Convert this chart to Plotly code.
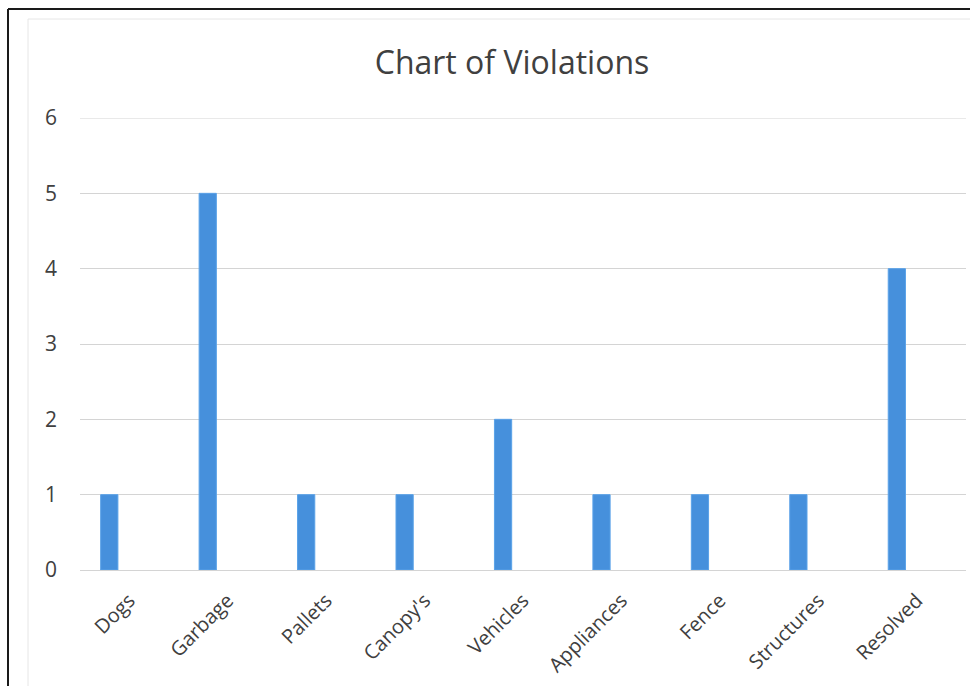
import plotly.graph_objects as go

categories = ["Dogs", "Garbage", "Pallets", "Canopy's", "Vehicles",
              "Appliances", "Fence", "Structures", "Resolved"]
counts = [1, 5, 1, 1, 2, 1, 1, 1, 4]
y_ticks = [0, 1, 2, 3, 4, 5, 6]

W, H = 970, 686
L, R, T, B = 80, 4, 118, 116
pw, ph = W - L - R, H - T - B
GRID = "#D4D4D4"


def px_x(p):
    return (p - L) / pw


def px_y(p):
    return 1 - (p - T) / ph


fig = go.Figure(go.Bar(
    x=categories, y=counts,
    width=0.175, offset=-0.29,
    marker=dict(color="#4690DC", line=dict(color="#5AA2E8", width=1)),
))

fig.update_layout(
    width=W, height=H,
    margin=dict(l=L, r=R, t=T, b=B),
    paper_bgcolor="white", plot_bgcolor="white",
    showlegend=False,
    font=dict(family="Open Sans, sans-serif", color="#595959"),
    title=dict(text="Chart of Violations", x=512 / W, xanchor="center",
               y=1 - 63 / H, yanchor="middle",
               font=dict(size=32, color="#404040")),
    xaxis=dict(showgrid=False, showline=False, tickangle=-45,
               tickfont=dict(size=20, color="#404040"),
               ticklabelstandoff=14,
               range=[-0.5, 8.5]),
    yaxis=dict(range=[0, y_ticks[-1]], tickvals=y_ticks, showgrid=True,
               gridcolor=GRID, gridwidth=1, zeroline=True,
               zerolinecolor=GRID, zerolinewidth=1, showline=False,
               tickfont=dict(size=21, color="#404040"),
               ticklabelstandoff=22),
    shapes=[
        # top gridline at the axis maximum
        dict(type="line", xref="paper", yref="y",
             x0=0, x1=1, y0=y_ticks[-1], y1=y_ticks[-1],
             line=dict(color=GRID, width=1), layer="below"),
        # faint chart-area frame
        dict(type="rect", xref="paper", yref="paper",
             x0=px_x(28), x1=px_x(990), y0=px_y(19), y1=px_y(720),
             line=dict(color="#E6E6E6", width=1), layer="below"),
        # outer black page frame
        dict(type="line", xref="paper", yref="paper",
             x0=px_x(8), x1=px_x(8), y0=px_y(9), y1=px_y(700),
             line=dict(color="#1a1a1a", width=2)),
        dict(type="line", xref="paper", yref="paper",
             x0=px_x(8), x1=px_x(980), y0=px_y(9), y1=px_y(9),
             line=dict(color="#1a1a1a", width=2)),
    ],
)

fig.write_html("out.html")
